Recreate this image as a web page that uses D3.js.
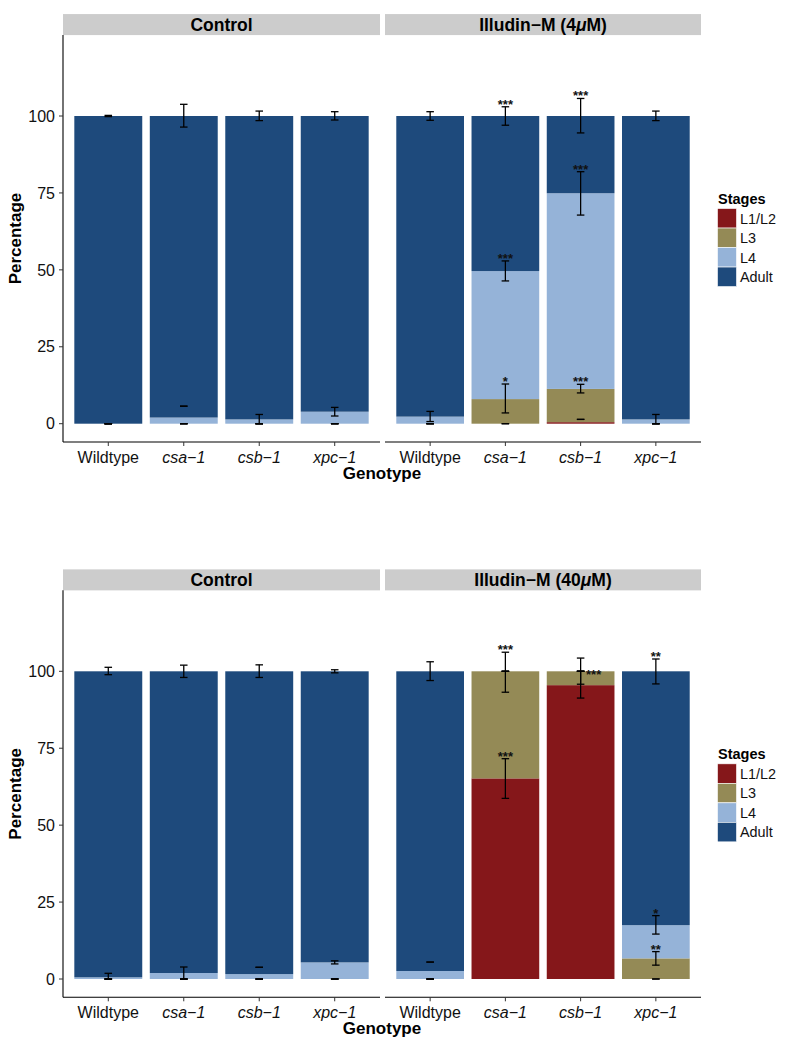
<!DOCTYPE html>
<html><head><meta charset="utf-8">
<script src="https://cdn.jsdelivr.net/npm/d3@7"></script>
<style>body{margin:0;background:#fff}svg{display:block}text{font-family:"Liberation Sans",Arial,Helvetica,sans-serif}</style>
</head><body>
<svg id="c" width="794" height="1048"></svg>
<script>
const genotypes = ["Wildtype","csa-1","csb-1","xpc-1"];
const genotypeLabels = ["Wildtype","csa\u22121","csb\u22121","xpc\u22121"];
const stages = ["L1/L2","L3","L4","Adult"];
const stageColors = ["#85171a","#948a56","#95b3d8","#1e4a7c"];
const yTicks = [0,25,50,75,100];

// Percentages per genotype, in stage order L1/L2, L3, L4, Adult
const ctrlA_values = [[0,0,0,100],[0,0,2.0,98.0],[0,0,1.4,98.6],[0,0,3.9,96.1]];
const ill4_values  = [[0,0,2.3,97.7],[0,8.0,41.6,50.4],[0.5,10.8,63.6,25.1],[0,0,1.4,98.6]];
const ctrlB_values = [[0,0,0.55,99.45],[0,0,1.95,98.05],[0,0,1.6,98.4],[0,0,5.4,94.6]];
const ill40_values = [[0,0,2.6,97.4],[65.2,34.8,0,0],[95.5,4.5,0,0],[0,6.7,10.8,82.5]];

// Error bars [low, high] (cumulative scale), per genotype per stage
const ctrlA_err = [
  [[0,0],[0,0],[0,0],[99.8,100.2]],
  [[0,0],[0,0],[5.7,5.7],[96.4,103.8]],
  [[0,0],[0,0],[0,3.0],[98.5,101.6]],
  [[0,0],[0,0],[2.5,5.3],[98.7,101.4]]];
const ill4_err = [
  [[0,0],[0,0],[0.7,4.0],[98.6,101.4]],
  [[0,0],[3.5,12.9],[46.4,52.9],[97.0,103.0]],
  [[1.4,1.4],[10.0,12.8],[67.8,81.9],[94.5,105.7]],
  [[0,0],[0,0],[0,3.0],[98.5,101.6]]];
const ctrlB_err = [
  [[0,0],[0,0],[0,1.85],[98.9,101.3]],
  [[0,0],[0,0],[0,3.9],[98.0,102.0]],
  [[0,0],[0,0],[3.8,3.8],[98.0,102.1]],
  [[0,0],[0,0],[4.9,5.9],[99.5,100.5]]];
const ill40_err = [
  [[0,0],[0,0],[5.5,5.5],[97.0,103.1]],
  [[58.7,71.6],[93.2,106.2],[100,100],[100,100]],
  [[91.3,100],[95.8,104.3],[100,100],[100,100]],
  [[0,0],[4.5,8.9],[14.6,20.6],[95.9,104.0]]];

// Significance labels per genotype per stage
const ill4_sig  = [["","","",""],["","*","***","***"],["","***","***","***"],["","","",""]];
const ill40_sig = [["","","",""],["***","***","",""],["***","","",""],["","**","*","**"]];
const ill40_sigShift = [[0,0,0,0],[0,0,0,0],[13,0,0,0],[0,0,0,0]];
const none_sig = [["","","",""],["","","",""],["","","",""],["","","",""]];
const zeroShift = [[0,0,0,0],[0,0,0,0],[0,0,0,0],[0,0,0,0]];

const charts = [
  {dy:0, panels:[
    {title:["Control"], values:ctrlA_values, err:ctrlA_err, sig:none_sig, shift:zeroShift},
    {title:["Illudin\u2212M (4","\u03bc","M)"], values:ill4_values, err:ill4_err, sig:ill4_sig, shift:zeroShift}]},
  {dy:555.3, panels:[
    {title:["Control"], values:ctrlB_values, err:ctrlB_err, sig:none_sig, shift:zeroShift},
    {title:["Illudin\u2212M (40","\u03bc","M)"], values:ill40_values, err:ill40_err, sig:ill40_sig, shift:ill40_sigShift}]}
];

const svg = d3.select("#c");
const panelX = [[63,380],[385,701]];
const y = d3.scaleLinear().domain([0,100]).range([423.7,116]);
const yMin = -5.95, yMax = 126.3;

charts.forEach(ch => {
  const g = svg.append("g").attr("transform",`translate(0,${ch.dy})`);
  const pTop = y(yMax), pBot = y(yMin);
  ch.panels.forEach((p,pi) => {
    const [x0,x1] = panelX[pi];
    const x = d3.scaleBand().domain(genotypes).range([x0,x1]).paddingInner(0.1).paddingOuter(0.15);
    // strip
    g.append("rect").attr("x",x0).attr("y",pTop-21).attr("width",x1-x0).attr("height",21).attr("fill","#cccccc");
    const st = g.append("text").attr("x",(x0+x1)/2).attr("y",pTop-4.5).attr("text-anchor","middle")
      .attr("font-size",17.5).attr("font-weight","bold");
    p.title.forEach((part,i) => st.append("tspan").attr("font-style",i===1?"italic":"normal").text(part));
    // bars
    genotypes.forEach((gt,gi) => {
      let cum = 0;
      stages.forEach((s,si) => {
        const v = p.values[gi][si];
        if (v>0) {
          g.append("rect").attr("x",x(gt)).attr("width",x.bandwidth())
            .attr("y",y(cum+v)).attr("height",y(cum)-y(cum+v)).attr("fill",stageColors[si]);
        }
        cum += v;
      });
    });
    // error bars
    const cx = gt => x(gt)+x.bandwidth()/2;
    const hw = x.step()*0.05;
    genotypes.forEach((gt,gi) => {
      stages.forEach((s,si) => {
        const [lo,hi] = p.err[gi][si];
        const c = cx(gt);
        if (hi>lo) g.append("line").attr("x1",c).attr("x2",c).attr("y1",y(lo)).attr("y2",y(hi)).attr("stroke","#000").attr("stroke-width",1.3);
        [lo,hi].forEach(v => g.append("line").attr("x1",c-hw).attr("x2",c+hw).attr("y1",y(v)).attr("y2",y(v)).attr("stroke","#000").attr("stroke-width",1.3));
        const lab = p.sig[gi][si];
        if (lab) g.append("text").attr("x",c+p.shift[gi][si]).attr("y",y(hi)+(p.shift[gi][si]?8:2)).attr("text-anchor","middle")
          .attr("font-size",13).attr("font-weight","bold").attr("fill","#111").text(lab);
      });
    });
    // x axis
    g.append("line").attr("x1",x0).attr("x2",x1).attr("y1",pBot).attr("y2",pBot).attr("stroke","#000").attr("stroke-width",1.1);
    genotypes.forEach((gt,gi) => {
      g.append("line").attr("x1",cx(gt)).attr("x2",cx(gt)).attr("y1",pBot).attr("y2",pBot+4).attr("stroke","#333").attr("stroke-width",1);
      g.append("text").attr("x",cx(gt)).attr("y",pBot+21).attr("text-anchor","middle").attr("font-size",16)
        .attr("font-style",gi===0?"normal":"italic").attr("fill","#111").text(genotypeLabels[gi]);
    });
    if (pi===0) {
      g.append("line").attr("x1",x0).attr("x2",x0).attr("y1",pTop).attr("y2",pBot).attr("stroke","#000").attr("stroke-width",1.1);
      yTicks.forEach(t => {
        g.append("line").attr("x1",x0-4).attr("x2",x0).attr("y1",y(t)).attr("y2",y(t)).attr("stroke","#333");
        g.append("text").attr("x",x0-8).attr("y",y(t)+5.7).attr("text-anchor","end").attr("font-size",16).attr("fill","#111").text(t);
      });
    }
  });
  // axis titles
  g.append("text").attr("x",382).attr("y",pBot+37).attr("text-anchor","middle").attr("font-size",17).attr("font-weight","bold").text("Genotype");
  g.append("text").attr("transform",`translate(21,${(pTop+pBot)/2}) rotate(-90)`).attr("text-anchor","middle").attr("font-size",17).attr("font-weight","bold").text("Percentage");
  // legend
  const ly = (pTop+pBot)/2 - 47;
  g.append("text").attr("x",718).attr("y",ly+12).attr("font-size",14.5).attr("font-weight","bold").text("Stages");
  stages.forEach((s,si) => {
    const ky = ly+17+si*19.5;
    g.append("rect").attr("x",717.5).attr("y",ky).attr("width",19).attr("height",19.5).attr("fill",stageColors[si]).attr("stroke","#fff").attr("stroke-width",0.6);
    g.append("text").attr("x",740).attr("y",ky+15).attr("font-size",14.4).attr("fill","#111").text(s);
  });
});
</script>
</body></html>
